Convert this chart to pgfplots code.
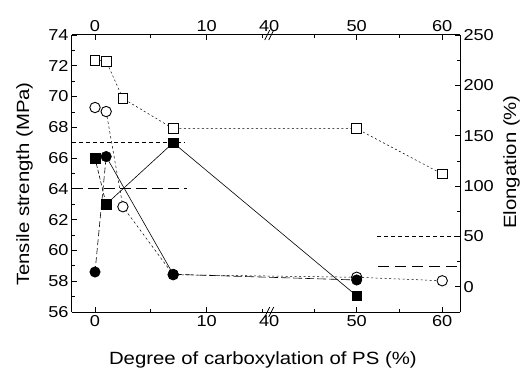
\documentclass[border=0pt]{standalone}
\usepackage{fontspec}
\setmainfont{Liberation Sans}[FakeStretch=1.15]
\usepackage{pgfplots}
\pgfplotsset{compat=1.18}
\begin{document}
\begin{tikzpicture}
\useasboundingbox (-72pt,-56pt) rectangle (451pt,312pt);
\pgfplotsset{
  common/.style={
    scale only axis, width=388pt, height=277pt,
    xmin=-2.06, xmax=32.68,
    at={(0pt,0pt)}, anchor=south west,
    /pgf/number format/assume math mode=true,
    tick label style={font=\fontsize{15.8}{17}\selectfont},
    label style={font=\fontsize{17.7}{19}\selectfont, inner sep=0pt},
    xtick={0,10,23.43,31.09}, xticklabels={0,10,50,60},
    minor xtick={5,15,19.6,27.26},
    extra x ticks={15.6}, extra x tick labels={40},
    extra x tick style={major tick length=0pt},
    tick align=inside,
    major tick length=5pt, minor tick length=3pt,
    tick style={black, line width=0.8pt},
    axis line style={line width=1pt},
    clip=false,
  },
  sq/.style={mark=square*, mark size=4.8pt, mark options={solid, fill=black, draw=black, line width=0.6pt}},
  ci/.style={mark=*, mark size=5.2pt, mark options={solid, fill=black, draw=black, line width=0.6pt}},
  osq/.style={mark=square*, mark size=4.8pt, mark options={solid, fill=white, draw=black, line width=0.9pt}},
  oci/.style={mark=*, mark size=5.2pt, mark options={solid, fill=white, draw=black, line width=0.9pt}},
}
% ---------------- left axis (tensile strength) ----------------
\begin{axis}[common,
  axis x line*=bottom, axis y line*=left,
  ymin=56, ymax=74, ytick={56,58,...,74}, minor ytick={57,59,...,73},
  xlabel={Degree of carboxylation of PS (\%)},
  ylabel={Tensile strength (MPa)},
  xlabel style={at={(axis description cs:0.492,-0.1913)}, anchor=base},
  ylabel style={at={(axis description cs:-0.1005,0.462)}, anchor=south},
]
% reference lines
\addplot[black, line width=0.8pt, dash pattern=on 4pt off 3pt] coordinates {(-2.06,67.0) (8.06,67.0)};
\addplot[black, line width=0.8pt, dash pattern=on 11pt off 5pt] coordinates {(-2.06,64.0) (8.24,64.0)};
% filled squares lines
\addplot[black, line width=0.6pt, dash pattern=on 4pt off 2pt] coordinates {(0,66.0) (1,63.0)};
\addplot[black, line width=0.6pt] coordinates {(1,63.0) (7,67.0) (23.43,57.05)};
% filled circles lines
\addplot[black, line width=0.6pt, dash pattern=on 6pt off 3pt] coordinates {(0,58.6) (1,66.1)};
\addplot[black, line width=0.6pt] coordinates {(1,66.1) (7,58.45)};
\addplot[black, line width=0.6pt, dash pattern=on 9pt off 3pt] coordinates {(7,58.45) (23.43,58.08)};
% axis break marks
\draw[line width=0.7pt] ([xshift=-4.5pt,yshift=-5pt]axis cs:15.6,56) -- ++(5pt,10pt);
\draw[line width=0.7pt] ([xshift=-0.5pt,yshift=-5pt]axis cs:15.6,56) -- ++(5pt,10pt);
\draw[line width=0.7pt] ([xshift=-4.5pt,yshift=-5pt]axis cs:15.6,74) -- ++(5pt,10pt);
\draw[line width=0.7pt] ([xshift=-0.5pt,yshift=-5pt]axis cs:15.6,74) -- ++(5pt,10pt);
\end{axis}
% ---------------- right axis (elongation) ----------------
\begin{axis}[common,
  axis x line*=top, axis y line*=right,
  ymin=-25, ymax=250, ytick={0,50,...,250}, minor ytick={-25,25,...,225},
  ylabel={Elongation (\%)},
  ylabel style={at={(axis description cs:1.1108,0.5415)}, anchor=north},
]
\addplot[black, line width=0.8pt, dash pattern=on 4pt off 3pt] coordinates {(25.25,50) (32.68,50)};
\addplot[black, line width=0.8pt, dash pattern=on 11pt off 6pt] coordinates {(25.34,20) (32.68,20)};
% open squares
\addplot[black, line width=0.5pt, dash pattern=on 2pt off 2.5pt, osq] coordinates {(0,225) (1,224) (2.5,187) (7,157) (23.43,157) (31.09,112)};
% open circles
\addplot[black, line width=0.5pt, dash pattern=on 2.5pt off 2.5pt] coordinates {(1,174) (2.5,79.5) (7,12)};
\addplot[black, line width=0.5pt, dash pattern=on 2pt off 2.5pt] coordinates {(7,12) (23.43,9.5) (31.09,6)};
\addplot[only marks, oci] coordinates {(0,178) (1,174) (2.5,79.5) (7,12) (23.43,9.5) (31.09,6)};
\end{axis}
% ---------------- filled marks on top ----------------
\begin{axis}[common, hide axis, ymin=56, ymax=74]
\addplot[only marks, sq] coordinates {(0,66.0) (1,63.0) (7,67.0) (23.43,57.05)};
\addplot[only marks, ci] coordinates {(0,58.6) (1,66.1) (7,58.45) (23.43,58.08)};
\end{axis}
\end{tikzpicture}
\end{document}
